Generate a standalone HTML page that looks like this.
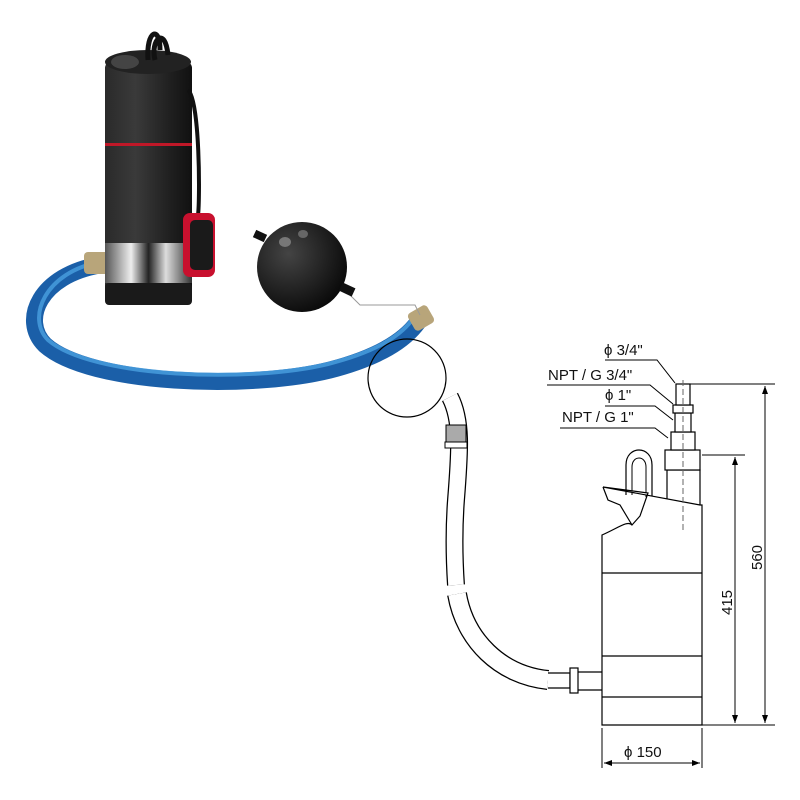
<!DOCTYPE html>
<html><head><meta charset="utf-8"><style>
html,body{margin:0;padding:0;background:#fff;width:800px;height:800px;overflow:hidden}
svg{display:block}
text{font-family:"Liberation Sans",sans-serif;fill:#111}
</style></head><body>
<svg width="800" height="800" viewBox="0 0 800 800">
<defs>
<linearGradient id="blk" x1="0" x2="1"><stop offset="0" stop-color="#2a2a2a"/><stop offset=".35" stop-color="#3a3a3a"/><stop offset=".8" stop-color="#1c1c1c"/><stop offset="1" stop-color="#111"/></linearGradient>
<linearGradient id="ss" x1="0" x2="1"><stop offset="0" stop-color="#555"/><stop offset=".3" stop-color="#eee"/><stop offset=".5" stop-color="#222"/><stop offset=".7" stop-color="#ddd"/><stop offset="1" stop-color="#333"/></linearGradient>
<radialGradient id="ball" cx=".35" cy=".35" r=".7"><stop offset="0" stop-color="#444"/><stop offset="1" stop-color="#0a0a0a"/></radialGradient>
</defs>
<path d="M100,265 C40,275 20,320 45,345 C90,385 250,390 330,370 C380,357 405,340 418,322" fill="none" stroke="#1b5fa8" stroke-width="17" stroke-linecap="round"/>
<path d="M100,262 C45,272 26,318 48,340 C92,378 250,383 328,364 C376,352 400,336 412,320" fill="none" stroke="#4aa0e0" stroke-width="4" opacity=".8"/>
<rect x="84" y="252" width="34" height="22" rx="4" fill="#b8a57a"/>
<rect x="410" y="308" width="22" height="20" rx="4" fill="#b8a57a" transform="rotate(-30 421 318)"/>
<path d="M345,290 L360,305 L415,305 L420,315" fill="none" stroke="#999" stroke-width="1"/>
<rect x="105" y="62" width="87" height="243" rx="6" fill="url(#blk)"/>
<ellipse cx="148" cy="62" rx="43" ry="12" fill="#222"/>
<ellipse cx="125" cy="62" rx="14" ry="7" fill="#444"/>
<path d="M148,60 C146,30 160,25 160,50 M155,60 C150,40 165,25 168,55" fill="none" stroke="#111" stroke-width="5"/>
<path d="M188,90 C200,100 200,200 198,215" fill="none" stroke="#111" stroke-width="4"/>
<rect x="105" y="143" width="87" height="3" fill="#c01828"/>
<rect x="105" y="243" width="87" height="40" fill="url(#ss)"/>
<rect x="105" y="283" width="87" height="22" rx="4" fill="#1a1a1a"/>
<rect x="183" y="213" width="32" height="64" rx="7" fill="#c8102e"/>
<rect x="190" y="220" width="23" height="50" rx="5" fill="#1a1a1a"/>
<circle cx="302" cy="267" r="45" fill="url(#ball)"/>
<ellipse cx="285" cy="242" rx="6" ry="5" fill="#777"/>
<ellipse cx="303" cy="234" rx="5" ry="4" fill="#666"/>
<rect x="340" y="285" width="14" height="9" fill="#111" transform="rotate(25 347 290)"/>
<rect x="254" y="232" width="12" height="8" fill="#111" transform="rotate(25 260 236)"/>
<circle cx="407" cy="378" r="39" fill="none" stroke="#000" stroke-width="1.2"/>
<g fill="none" stroke-linecap="butt">
<path d="M450,397 C462,420 460,450 456,500 C453,540 455,570 456,585" stroke="#000" stroke-width="18"/>
<path d="M450,397 C462,420 460,450 456,500 C453,540 455,570 456,585" stroke="#fff" stroke-width="15.5"/>
<path d="M457,594 C465,640 500,675 548,680" stroke="#000" stroke-width="20"/>
<path d="M457,594 C465,640 500,675 548,680" stroke="#fff" stroke-width="17.5"/>
</g>
<rect x="446" y="425" width="20" height="18" fill="#aaa" stroke="#000" stroke-width="1"/>
<rect x="445" y="442" width="22" height="6" fill="#fff" stroke="#000" stroke-width="1"/>
<g fill="#fff" stroke="#000" stroke-width="1.2">
<path d="M548,673 L570,673 L570,688 L548,688"/>
<rect x="570" y="668" width="8" height="25"/>
<path d="M578,672 L602,672 M578,690 L602,690"/>
<path d="M626,495 L626,465 C626,445 652,445 652,465 L652,498" fill="none"/>
<path d="M632,495 L632,467 C632,455 646,455 646,467 L646,497" fill="none" stroke-width="1"/>
<rect x="667" y="470" width="33" height="36"/>
<rect x="665" y="450" width="35" height="20"/>
<rect x="671" y="432" width="24" height="18"/>
<rect x="675" y="413" width="16" height="19"/>
<rect x="673" y="405" width="20" height="8"/>
<rect x="676" y="384" width="14" height="21"/>
<path d="M603,487 L700,505 L702,505 L702,725 L602,725 L602,535 C618,528 628,520 632,525 L640,516 L648,493 L603,487 Z"/>
<path d="M603,487 L608,500 L620,505 L632,525" fill="none"/>
<path d="M602,573 L702,573 M602,656 L702,656 M602,697 L702,697" fill="none"/>
</g>
<path d="M683,380 L683,530" stroke="#666" stroke-width="1" stroke-dasharray="6,3"/>
<g stroke="#000" stroke-width="1" fill="none">
<path d="M690,384 L775,384 M702,725 L775,725 M702,455 L745,455 M602,728 L602,768 M702,728 L702,768"/>
<path d="M765,386 L765,723 M735,457 L735,723 M604,763 L700,763"/>
<path d="M605,360 L657,360 L675,383 M547,385 L650,385 L673,404 M605,406 L655,406 L673,420 M560,428 L655,428 L668,438"/>
</g>
<g fill="#000">
<path d="M765,386 l-3,8 h6z M765,723 l-3,-8 h6z M735,457 l-3,8 h6z M735,723 l-3,-8 h6z M604,763 l8,-3 v6z M700,763 l-8,-3 v6z"/>
</g>
<text x="604" y="355" font-size="15">ϕ 3/4"</text>
<text x="548" y="380" font-size="15">NPT / G 3/4"</text>
<text x="605" y="400" font-size="15">ϕ 1"</text>
<text x="562" y="422" font-size="15">NPT / G 1"</text>
<text x="624" y="757" font-size="15">ϕ 150</text>
<text font-size="15" transform="translate(762,570) rotate(-90)">560</text>
<text font-size="15" transform="translate(732,615) rotate(-90)">415</text>
</svg>
</body></html>
